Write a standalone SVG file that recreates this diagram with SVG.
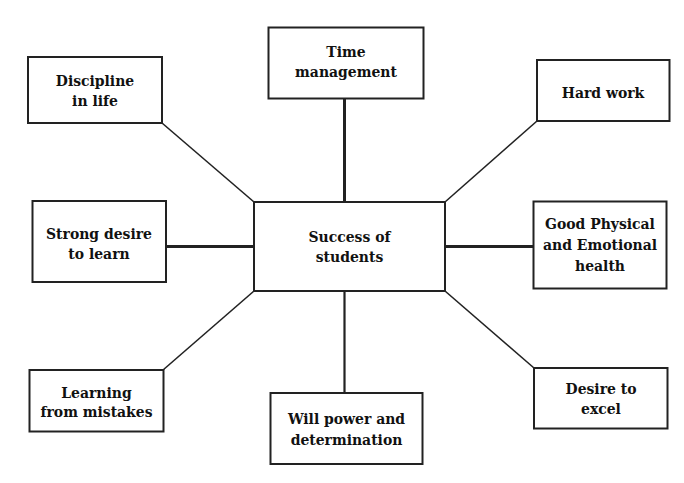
<svg xmlns="http://www.w3.org/2000/svg" width="684" height="483" viewBox="0 0 684 483">
<style>
.box{fill:#fff;stroke:#222;stroke-width:2}
.t{font-family:"DejaVu Serif Condensed","DejaVu Serif",serif;font-weight:bold;font-size:15.5px;fill:#111;text-anchor:middle}
.c{stroke:#222;fill:none}
</style>
<rect width="684" height="483" fill="#fff"/>
<g id="connectors">
<line class="c" x1="162" y1="123" x2="254" y2="202" stroke-width="1.6"/>
<line class="c" x1="344.5" y1="99" x2="344.5" y2="202" stroke-width="3"/>
<line class="c" x1="537" y1="121" x2="445" y2="202" stroke-width="1.6"/>
<line class="c" x1="166" y1="246.5" x2="254" y2="246.5" stroke-width="3"/>
<line class="c" x1="445" y1="246.5" x2="533" y2="246.5" stroke-width="3"/>
<line class="c" x1="163" y1="370" x2="254" y2="291" stroke-width="1.6"/>
<line class="c" x1="344.5" y1="291" x2="344.5" y2="393" stroke-width="2.2"/>
<line class="c" x1="445" y1="291" x2="534" y2="368" stroke-width="1.6"/>
</g>
<g id="center">
<rect class="box" x="254" y="202" width="191" height="89"/>
<text class="t" x="349.5" y="242">Success of</text>
<text class="t" x="349.5" y="262">students</text>
</g>
<g id="discipline">
<rect class="box" x="28" y="57" width="134" height="66"/>
<text class="t" x="95" y="86">Discipline</text>
<text class="t" x="95" y="106">in life</text>
</g>
<g id="time">
<rect class="box" x="268.5" y="27.5" width="155" height="71"/>
<text class="t" x="346" y="57">Time</text>
<text class="t" x="346" y="77">management</text>
</g>
<g id="hardwork">
<rect class="box" x="537" y="60" width="132.5" height="61"/>
<text class="t" x="603" y="97.5">Hard work</text>
</g>
<g id="strong">
<rect class="box" x="32.5" y="201" width="133.5" height="81"/>
<text class="t" x="99" y="238.5">Strong desire</text>
<text class="t" x="99" y="258.5">to learn</text>
</g>
<g id="physical">
<rect class="box" x="533.5" y="201.5" width="133" height="87"/>
<text class="t" x="600" y="229">Good Physical</text>
<text class="t" x="600" y="250">and Emotional</text>
<text class="t" x="600" y="271">health</text>
</g>
<g id="learning">
<rect class="box" x="29.5" y="370" width="134" height="61.5"/>
<text class="t" x="96.5" y="397.5">Learning</text>
<text class="t" x="96.5" y="417">from mistakes</text>
</g>
<g id="willpower">
<rect class="box" x="270.5" y="393" width="152" height="71"/>
<text class="t" x="346.5" y="424">Will power and</text>
<text class="t" x="346.5" y="445">determination</text>
</g>
<g id="desire">
<rect class="box" x="534" y="368" width="133.5" height="60.5"/>
<text class="t" x="601" y="393.5">Desire to</text>
<text class="t" x="601" y="413.5">excel</text>
</g>
</svg>
